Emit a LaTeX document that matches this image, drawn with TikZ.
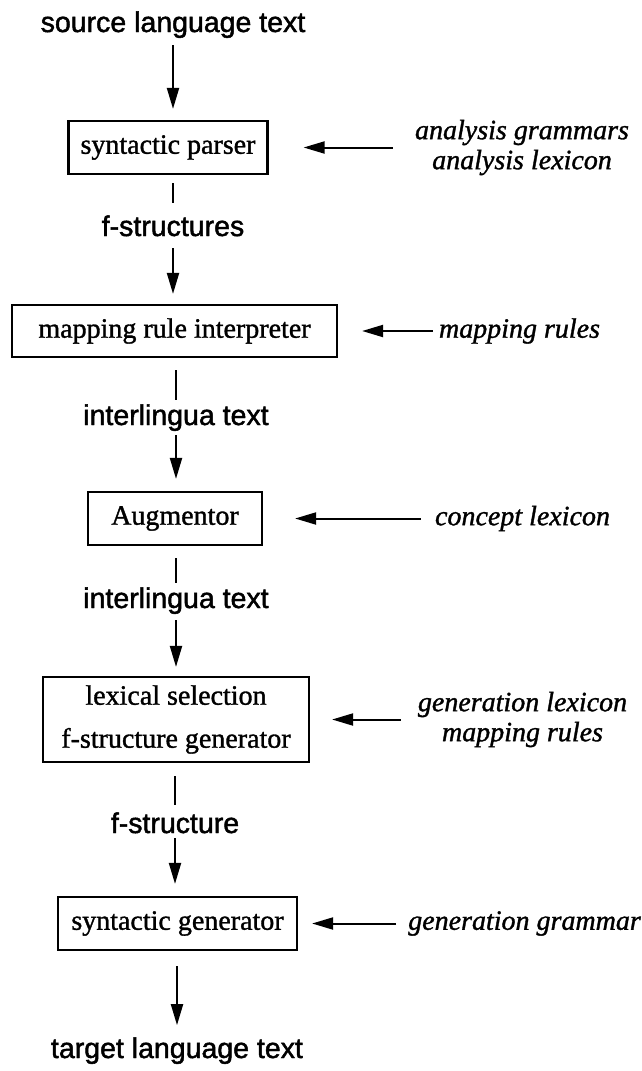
\documentclass[tikz,border=0pt]{standalone}
\usepackage{fontspec}
\setmainfont{Liberation Serif}[FakeBold=1.2]
\newfontfamily\labelfont{Liberation Sans}[FakeBold=1.6]
\usetikzlibrary{arrows.meta}
\begin{document}
\begin{tikzpicture}[x=1pt, y=-1pt,
  stage/.style={draw, line width=2.2pt, inner sep=0pt, align=center,
    font=\fontsize{28}{34}\selectfont},
  flowlabel/.style={inner sep=0pt, anchor=base,
    font=\labelfont\fontsize{28.5}{34}\selectfont},
  resource/.style={inner sep=0pt, align=center,
    font=\itshape\fontsize{28}{30}\selectfont},
  link/.style={line width=2pt},
  feed/.style={line width=2pt, -{Triangle[length=21pt,width=12pt]}}]
\useasboundingbox (0,0) rectangle (642,1071);

% main pipeline
\node[flowlabel] (src) at (173,32) {source language text};
\node[stage, minimum width=199pt, minimum height=53pt] (b1) at (168,147.5) {syntactic parser};
\node[flowlabel] (l1) at (173,236) {f-structures};
\node[stage, minimum width=325pt, minimum height=52pt] (b2) at (174.5,331) {mapping rule interpreter};
\node[flowlabel] (l2) at (176,425) {interlingua text};
\node[stage, minimum width=174pt, minimum height=53pt] (b3) at (175,518.5) {Augmentor};
\node[flowlabel] (l3) at (176,608) {interlingua text};
\node[stage, minimum width=266pt, minimum height=85pt,
  font=\fontsize{28}{43}\selectfont] (b4) at (176,719.5) {lexical selection\\f-structure generator};
\node[flowlabel] (l4) at (175,833) {f-structure};
\node[stage, minimum width=239pt, minimum height=53pt] (b5) at (177.5,923.5) {syntactic generator};
\node[flowlabel] (tgt) at (177,1058) {target language text};

% knowledge sources
\node[resource] (r1) at (522,147.5) {analysis grammars\\analysis lexicon};
\node[resource] (r2) at (519.5,331) {mapping rules};
\node[resource] (r3) at (522.5,518.5) {concept lexicon};
\node[resource] (r4) at (522.5,719.5) {generation lexicon\\mapping rules};
\node[resource] (r5) at (524.5,923.5) {generation grammar};

% downward flow
\draw[feed, shorten <=7pt, shorten >=11pt] (src.south) -- (src.south |- b1.north);
\draw[link, shorten <=8pt, shorten >=12pt] (l1.north |- b1.south) -- (l1.north);
\draw[feed, shorten <=12pt, shorten >=10pt] (l1.south) -- (l1.south |- b2.north);
\draw[link, shorten <=12pt, shorten >=4pt] (l2.north |- b2.south) -- (l2.north);
\draw[feed, shorten <=4pt, shorten >=12pt] (l2.south) -- (l2.south |- b3.north);
\draw[link, shorten <=12pt, shorten >=4pt] (l3.north |- b3.south) -- (l3.north);
\draw[feed, shorten <=6pt, shorten >=9pt] (l3.south) -- (l3.south |- b4.north);
\draw[link, shorten <=13pt, shorten >=7pt] (l4.north |- b4.south) -- (l4.north);
\draw[feed, shorten <=5pt, shorten >=12pt] (l4.south) -- (l4.south |- b5.north);
\draw[feed, shorten <=15pt, shorten >=12pt] (tgt.north |- b5.south) -- (tgt.north);

% knowledge feeding into each stage
\draw[feed, shorten <=22pt, shorten >=35pt] (r1.west) -- (b1.east);
\draw[feed, shorten <=6pt, shorten >=24pt] (r2.west) -- (b2.east);
\draw[feed, shorten <=14pt, shorten >=32pt] (r3.west) -- (b3.east);
\draw[feed, shorten <=17pt, shorten >=22pt] (r4.west) -- (b4.east);
\draw[feed, shorten <=12pt, shorten >=14pt] (r5.west) -- (b5.east);
\end{tikzpicture}
\end{document}
